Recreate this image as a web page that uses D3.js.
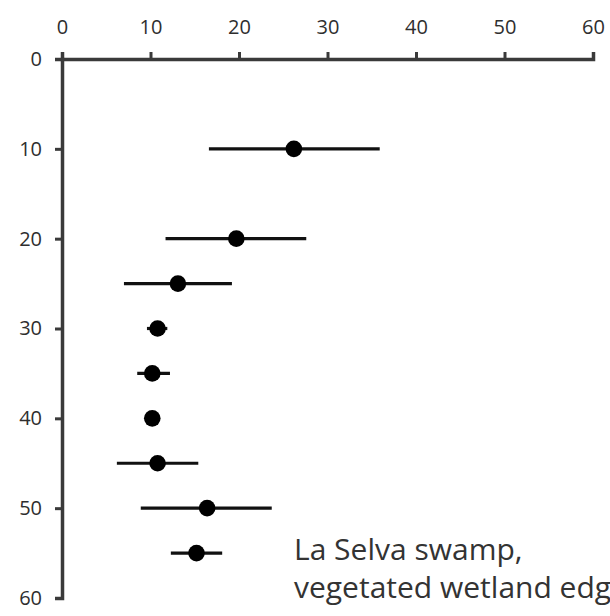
<!DOCTYPE html>
<html><head><meta charset="utf-8">
<script src="https://cdn.jsdelivr.net/npm/d3@7"></script>
<style>body{margin:0;background:#fff}svg{display:block}</style>
</head><body>
<svg id="c" width="610" height="616"></svg>
<script>
const depths = [10, 20, 25, 30, 35, 40, 45, 50, 55];
const means  = [26.2, 19.7, 13.1, 10.8, 10.2, 10.2, 10.8, 16.4, 15.2];
const lowErr = [16.6, 11.7, 7.0, 9.6, 8.5, 10.2, 6.2, 8.9, 12.3];
const highErr= [35.9, 27.6, 19.2, 11.9, 12.2, 10.2, 15.4, 23.7, 18.1];
const xTicks = [0, 10, 20, 30, 40, 50, 60];
const yTicks = [0, 10, 20, 30, 40, 50, 60];
const labelLines = ["La Selva swamp,", "vegetated wetland edge"];

const svg = d3.select("#c");
const x = d3.scaleLinear().domain([0, 60]).range([62, 593]);
const y = d3.scaleLinear().domain([0, 60]).range([59, 598]);
const axisColor = "#3a3a3a";
const font = "'Open Sans', sans-serif";

const gx = svg.append("g").attr("transform", `translate(0,${y(0)})`)
  .call(d3.axisTop(x).tickValues(xTicks).tickSize(7).tickSizeOuter(7).tickPadding(18));
const gy = svg.append("g").attr("transform", `translate(${x(0)},0)`)
  .call(d3.axisLeft(y).tickValues(yTicks).tickSize(7).tickSizeOuter(7).tickPadding(13));
[gx, gy].forEach(g => {
  g.select(".domain").attr("stroke", axisColor).attr("stroke-width", 3.5);
  g.selectAll(".tick line").attr("stroke", axisColor).attr("stroke-width", 3);
  g.selectAll(".tick text").attr("fill", "#2e2e2e").attr("font-size", 20).attr("font-family", font);
});

const rows = depths.map((d, i) => ({d, m: means[i], lo: lowErr[i], hi: highErr[i]}));
svg.append("g").selectAll("line").data(rows).join("line")
  .attr("x1", r => x(r.lo)).attr("x2", r => x(r.hi))
  .attr("y1", r => y(r.d)).attr("y2", r => y(r.d))
  .attr("stroke", "#111").attr("stroke-width", 3.2);
svg.append("g").selectAll("circle").data(rows).join("circle")
  .attr("cx", r => x(r.m)).attr("cy", r => y(r.d)).attr("r", 8.3).attr("fill", "#000");

svg.append("text").attr("x", 294).attr("y", 560)
  .attr("font-family", font).attr("font-size", 30).attr("fill", "#333")
  .selectAll("tspan").data(labelLines).join("tspan")
  .attr("x", 294).attr("dy", (d, i) => i ? 38 : 0).text(d => d);
</script>
</body></html>
